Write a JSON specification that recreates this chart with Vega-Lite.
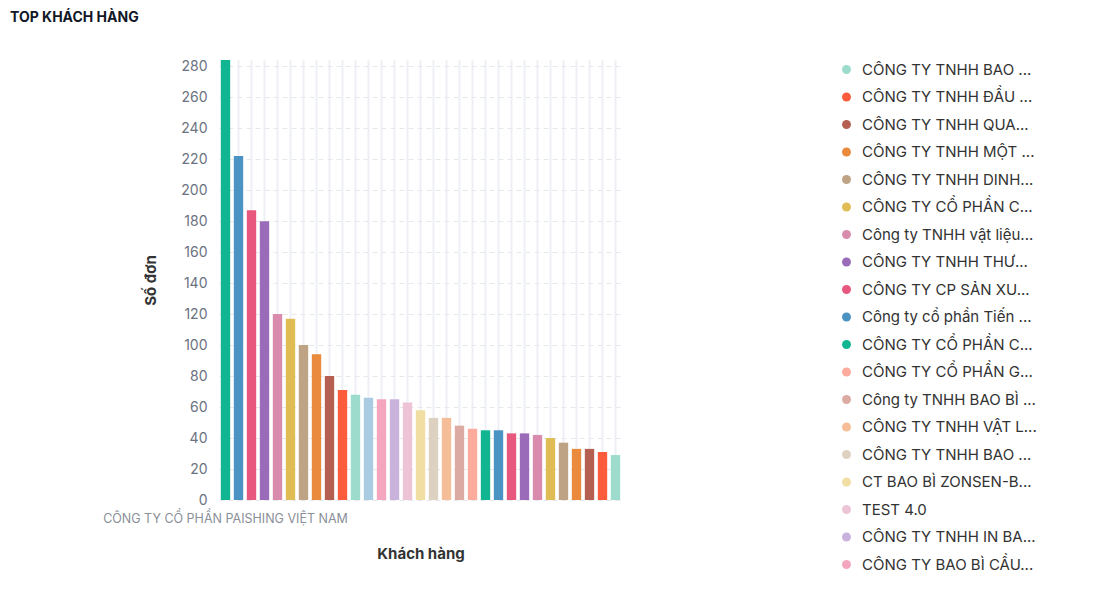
{
  "$schema": "https://vega.github.io/schema/vega-lite/v6.json",
  "width": 403,
  "height": 440,
  "autosize": {"type": "none"},
  "padding": {"left": 219, "top": 60, "right": 471, "bottom": 92},
  "background": "#ffffff",
  "title": {
    "text": "TOP KHÁCH HÀNG",
    "anchor": "start",
    "frame": "group",
    "orient": "top",
    "dx": -209,
    "offset": 23,
    "baseline": "alphabetic",
    "font": "Inter",
    "fontSize": 14,
    "fontWeight": "bold",
    "color": "#111827"
  },
  "config": {
    "view": {"stroke": null},
    "font": "Inter"
  },
  "data": {
    "values": [
      {"stt": 1, "khach_hang": "01|CÔNG TY CỔ PHẦN PAISHING VIỆT NAM", "so_don": 284},
      {"stt": 2, "khach_hang": "02|Khách hàng 2", "so_don": 222},
      {"stt": 3, "khach_hang": "03|Khách hàng 3", "so_don": 187},
      {"stt": 4, "khach_hang": "04|Khách hàng 4", "so_don": 180},
      {"stt": 5, "khach_hang": "05|Khách hàng 5", "so_don": 120},
      {"stt": 6, "khach_hang": "06|Khách hàng 6", "so_don": 117},
      {"stt": 7, "khach_hang": "07|Khách hàng 7", "so_don": 100},
      {"stt": 8, "khach_hang": "08|Khách hàng 8", "so_don": 94},
      {"stt": 9, "khach_hang": "09|Khách hàng 9", "so_don": 80},
      {"stt": 10, "khach_hang": "10|Khách hàng 10", "so_don": 71},
      {"stt": 11, "khach_hang": "11|Khách hàng 11", "so_don": 68},
      {"stt": 12, "khach_hang": "12|Khách hàng 12", "so_don": 66},
      {"stt": 13, "khach_hang": "13|CÔNG TY BAO BÌ CẦU...", "so_don": 65},
      {"stt": 14, "khach_hang": "14|CÔNG TY TNHH IN BA...", "so_don": 65},
      {"stt": 15, "khach_hang": "15|TEST 4.0", "so_don": 63},
      {"stt": 16, "khach_hang": "16|CT BAO BÌ ZONSEN-B...", "so_don": 58},
      {"stt": 17, "khach_hang": "17|CÔNG TY TNHH BAO ...", "so_don": 53},
      {"stt": 18, "khach_hang": "18|CÔNG TY TNHH VẬT L...", "so_don": 53},
      {"stt": 19, "khach_hang": "19|Công ty TNHH BAO BÌ ...", "so_don": 48},
      {"stt": 20, "khach_hang": "20|CÔNG TY CỔ PHẦN G...", "so_don": 46},
      {"stt": 21, "khach_hang": "21|CÔNG TY CỔ PHẦN C...", "so_don": 45},
      {"stt": 22, "khach_hang": "22|Công ty cổ phần Tiến ...", "so_don": 45},
      {"stt": 23, "khach_hang": "23|CÔNG TY CP SẢN XU...", "so_don": 43},
      {"stt": 24, "khach_hang": "24|CÔNG TY TNHH THƯ...", "so_don": 43},
      {"stt": 25, "khach_hang": "25|Công ty TNHH vật liệu...", "so_don": 42},
      {"stt": 26, "khach_hang": "26|CÔNG TY CỔ PHẦN C...", "so_don": 40},
      {"stt": 27, "khach_hang": "27|CÔNG TY TNHH DINH...", "so_don": 37},
      {"stt": 28, "khach_hang": "28|CÔNG TY TNHH MỘT ...", "so_don": 33},
      {"stt": 29, "khach_hang": "29|CÔNG TY TNHH QUA...", "so_don": 33},
      {"stt": 30, "khach_hang": "30|CÔNG TY TNHH ĐẦU ...", "so_don": 31},
      {"stt": 31, "khach_hang": "31|CÔNG TY TNHH BAO ...", "so_don": 29}
    ]
  },
  "mark": {"type": "bar"},
  "encoding": {
    "x": {
      "field": "khach_hang",
      "type": "nominal",
      "sort": {"field": "stt", "order": "ascending"},
      "scale": {"paddingInner": 0.28, "paddingOuter": 0.14},
      "axis": {
        "title": "Khách hàng",
        "titleFont": "Inter",
        "titleFontSize": 15,
        "titleFontWeight": "bold",
        "titleColor": "#333333",
        "titlePadding": 22,
        "labelExpr": "indexof(datum.value, '01|') == 0 ? split(datum.value, '|')[1] : ''",
        "labelOverlap": false,
        "labelAngle": 0,
        "labelLimit": 400,
        "labelFontSize": 12.5,
        "labelColor": "#8a8f98",
        "labelPadding": 12,
        "ticks": false,
        "domain": false,
        "grid": true,
        "gridColor": "#eef0f5",
        "gridWidth": 2,
        "bandPosition": 0.5
      }
    },
    "y": {
      "field": "so_don",
      "type": "quantitative",
      "scale": {"domain": [0, 284], "nice": false},
      "axis": {
        "title": "Số đơn",
        "titleFont": "Inter",
        "titleFontSize": 15,
        "titleFontWeight": "bold",
        "titleColor": "#333333",
        "titlePadding": 22,
        "values": [0, 20, 40, 60, 80, 100, 120, 140, 160, 180, 200, 220, 240, 260, 280],
        "labelFontSize": 14,
        "labelColor": "#6b7280",
        "labelPadding": 12,
        "ticks": false,
        "domain": false,
        "grid": true,
        "gridColor": "#e6e8ee",
        "gridDash": [5, 4],
        "gridWidth": 1
      }
    },
    "color": {
      "field": "khach_hang",
      "type": "nominal",
      "scale": {
        "range": ["#12b592", "#4b93c3", "#e8577e", "#9a6bb9", "#d98bae", "#e0bd54", "#bfa385", "#ea8a3d", "#b55f50", "#fd5c3c", "#9ddccc", "#a9cce3", "#f4a6bf", "#c9b3dd", "#edc4d6", "#f0dea2", "#ddd2c1", "#f6be98", "#dbaaa2", "#fdab9c"]
      },
      "legend": {
        "title": null,
        "orient": "right",
        "offset": 215,
        "values": ["31|CÔNG TY TNHH BAO ...", "30|CÔNG TY TNHH ĐẦU ...", "29|CÔNG TY TNHH QUA...", "28|CÔNG TY TNHH MỘT ...", "27|CÔNG TY TNHH DINH...", "26|CÔNG TY CỔ PHẦN C...", "25|Công ty TNHH vật liệu...", "24|CÔNG TY TNHH THƯ...", "23|CÔNG TY CP SẢN XU...", "22|Công ty cổ phần Tiến ...", "21|CÔNG TY CỔ PHẦN C...", "20|CÔNG TY CỔ PHẦN G...", "19|Công ty TNHH BAO BÌ ...", "18|CÔNG TY TNHH VẬT L...", "17|CÔNG TY TNHH BAO ...", "16|CT BAO BÌ ZONSEN-B...", "15|TEST 4.0", "14|CÔNG TY TNHH IN BA...", "13|CÔNG TY BAO BÌ CẦU..."],
        "labelExpr": "split(datum.value, '|')[1]",
        "symbolType": "circle",
        "symbolSize": 80,
        "symbolStrokeWidth": 0,
        "labelFont": "Inter",
        "labelFontSize": 15,
        "labelColor": "#333333",
        "labelOffset": 8,
        "labelLimit": 220,
        "rowPadding": 11.5,
        "padding": 2
      }
    }
  }
}
